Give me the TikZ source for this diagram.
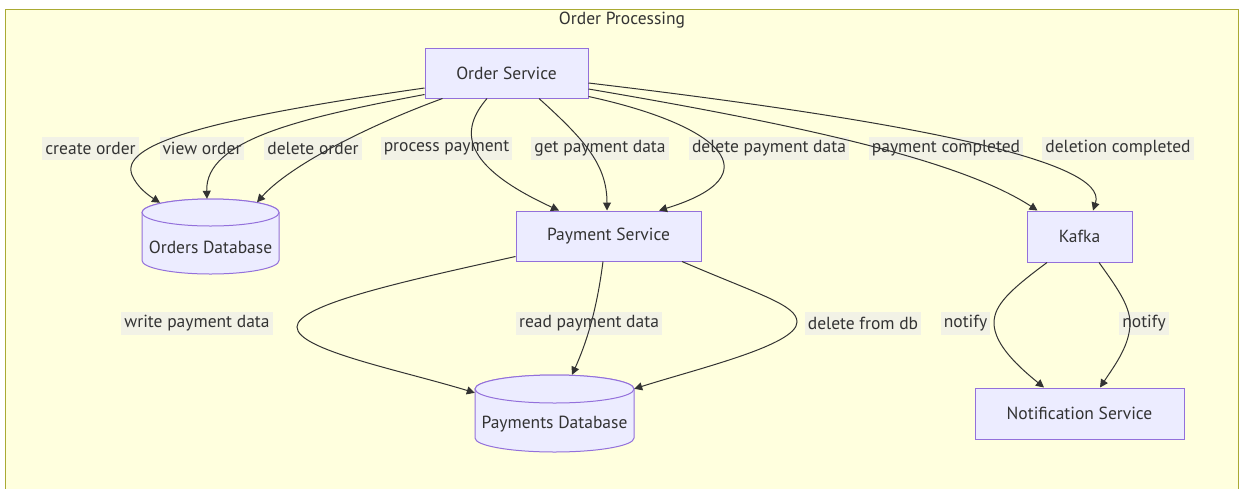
\documentclass[tikz,border=0pt]{standalone}
\usepackage{fontspec}
\setmainfont{PT Sans}
\usetikzlibrary{arrows.meta,calc}
\definecolor{frameFill}{HTML}{FFFFDE}
\definecolor{frameLine}{HTML}{AAAA33}
\definecolor{nodeFill}{HTML}{ECECFF}
\definecolor{nodeLine}{HTML}{9370DB}
\definecolor{ink}{HTML}{333333}
\definecolor{labelFill}{HTML}{F2F2E6}

% database cylinder: centre x, top y, bottom y, x radius, y radius
\newcommand{\dbcylinder}[5]{%
  \path[dbshape] ({#1-#4},{#2+#5}) -- ({#1-#4},{#3-#5})
    arc[start angle=180,end angle=0,x radius=#4,y radius=#5]
    -- ({#1+#4},{#2+#5})
    arc[start angle=0,end angle=-180,x radius=#4,y radius=#5] -- cycle;
  \path[dbshape] (#1,{#2+#5}) ellipse[x radius=#4,y radius=#5];
}

\begin{document}
\begin{tikzpicture}[x=1pt,y=-1pt,
  every node/.style={font=\fontsize{17.5}{20}\selectfont, text=ink},
  svc/.style={draw=nodeLine, fill=nodeFill, line width=1pt, inner sep=0pt},
  dbbox/.style={inner sep=0pt},
  dbshape/.style={draw=nodeLine, fill=nodeFill, line width=1pt},
  elabel/.style={fill=labelFill, inner xsep=3pt, inner ysep=0pt, minimum height=23pt},
  flow/.style={draw=ink, line width=1pt, -{Triangle[length=8pt,width=8pt]}},
]
\useasboundingbox (0,0) rectangle (1245,488);
\clip (0,0) rectangle (1245,488);
\fill[white] (0,0) rectangle (1245,488);

% group frame
\path[fill=frameFill, draw=frameLine, line width=1pt] (5,9) rectangle (1238,500);
\node (title) at (622,20) {Order Processing};

% services
\node[svc, minimum width=163pt, minimum height=50pt] (os) at (506.5,73) {Order Service};
\node[svc, minimum width=185pt, minimum height=50pt] (ps) at (608.5,236) {Payment Service};
\node[svc, minimum width=105pt, minimum height=51pt] (kafka) at (1079.5,236.5) {Kafka};
\node[svc, minimum width=209pt, minimum height=51pt] (ns) at (1079.5,413.5) {Notification Service};

% databases
\node[dbbox, minimum width=137pt, minimum height=75pt] (odb) at (210.5,236.5) {};
\dbcylinder{210.5}{199}{274}{68.5}{13.5}
\node (odbt) at (210.5,247) {Orders Database};
\node[dbbox, minimum width=159pt, minimum height=77pt] (pdb) at (554.5,413.5) {};
\dbcylinder{554.5}{375}{452}{79.5}{14}
\node (pdbt) at (554.5,424) {Payments Database};

% edge labels
\node[elabel] (l1) at (90.5,148) {create order};
\node[elabel] (l2) at (202,148) {view order};
\node[elabel] (l3) at (313,148) {delete order};
\node[elabel] (l4) at (446.5,148) {process payment};
\node[elabel] (l5) at (600,148) {get payment data};
\node[elabel] (l6) at (769,148) {delete payment data};
\node[elabel] (l7) at (946,148) {payment completed};
\node[elabel] (l8) at (1118,148) {deletion completed};
\node[elabel] (l9) at (197,323.5) {write payment data};
\node[elabel] (l10) at (589,323.5) {read payment data};
\node[elabel] (l11) at (863,323.5) {delete from db};
\node[elabel] (l12) at (965.5,323.5) {notify};
\node[elabel] (l13) at (1144,323.5) {notify};

% Order Service connectors
\draw[flow] ($(os.west)+(0,15)$) .. controls (200,120) and (120,145) .. (132,175)
  .. controls (137,187) and (148,195) .. ($(odb.north)+(-50.5,4)$);
\draw[flow] ($(os.south west)+(0,-4)$) .. controls (300,118) and (205,140) .. ($(odb.north)+(-3.5,0)$);
\draw[flow] ($(os.south west)+(18,0)$) .. controls (370,125) and (290,165) .. ($(odb.north)+(46.5,3.5)$);
\draw[flow] ($(os.south)+(-19.5,0)$) .. controls (460,130) and (460,165) .. ($(ps.north)+(-49.5,0)$);
\draw[flow] ($(os.south)+(32.5,0)$) .. controls (585,140) and (607,165) .. ($(ps.north)+(-1.5,0)$);
\draw[flow] ($(os.south east)+(0,-2)$) .. controls (720,125) and (775,175) .. ($(ps.north)+(50.5,0)$);
\draw[flow] ($(os.east)+(0,16)$) .. controls (800,125) and (960,160) .. ($(kafka.north west)+(11,0)$);
\draw[flow] ($(os.east)+(0,10)$) .. controls (900,120) and (1110,160) .. ($(kafka.north)+(13.5,0)$);

% Payment Service connectors
\draw[flow] ($(ps.south west)+(0,-5)$) .. controls (400,282) and (297,305) .. (297,327)
  .. controls (297,350) and (400,370) .. ($(pdb.north west)+(0,18)$);
\draw[flow] ($(ps.south)+(-5.5,0)$) .. controls (598,300) and (590,335) .. ($(pdb.north)+(17.5,0)$);
\draw[flow] ($(ps.south)+(73.5,0)$) .. controls (760,295) and (797,305) .. (797,322)
  .. controls (797,345) and (700,368) .. ($(pdb.north east)+(0,14)$);

% Kafka connectors
\draw[flow] ($(kafka.south)+(-32.5,0)$) .. controls (1010,290) and (994,305) .. (994,323)
  .. controls (994,345) and (1020,368) .. ($(ns.north)+(-35.5,0)$);
\draw[flow] ($(kafka.south)+(19.5,0)$) .. controls (1115,285) and (1130,305) .. (1130,323)
  .. controls (1130,345) and (1115,365) .. ($(ns.north)+(20.5,0)$);
\end{tikzpicture}
\end{document}
